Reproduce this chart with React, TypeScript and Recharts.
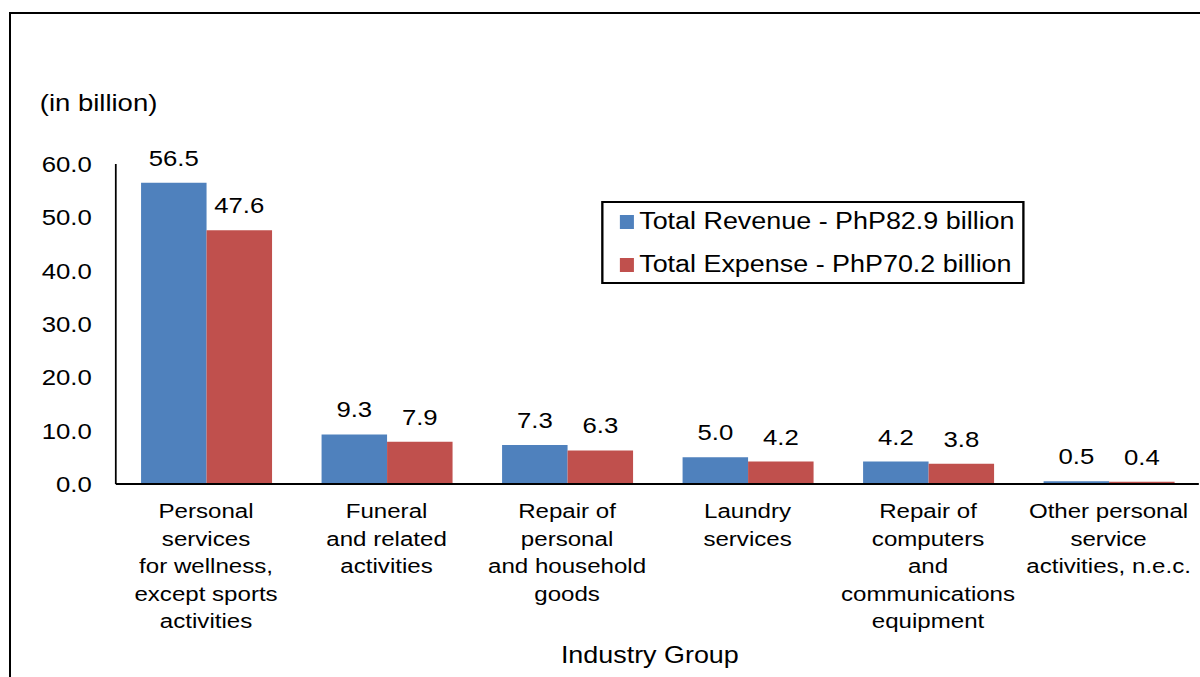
import { BarChart, Bar, XAxis, YAxis, Legend, LabelList } from "recharts";

// categories, line breaks as in the source chart
const categories = [
  "Personal\nservices\nfor wellness,\nexcept sports\nactivities",
  "Funeral\nand related\nactivities",
  "Repair of\npersonal\nand household\ngoods",
  "Laundry\nservices",
  "Repair of\ncomputers\nand\ncommunications\nequipment",
  "Other personal\nservice\nactivities, n.e.c.",
];
const revenue = [56.5, 9.3, 7.3, 5.0, 4.2, 0.5];
const expense = [47.6, 7.9, 6.3, 4.2, 3.8, 0.4];
const yTicks = [0, 10, 20, 30, 40, 50, 60];

const revenueName = "Total Revenue - PhP82.9 billion";
const expenseName = "Total Expense - PhP70.2 billion";
const legendOrder = [revenueName, expenseName];

const data = categories.map((c, i) => ({ name: c, revenue: revenue[i], expense: expense[i] }));

const FONT = '"Liberation Sans", Arial, sans-serif';
// the source picture is stretched sideways, so the chart is drawn narrower and scaled
const W = 1026;
const S = 1200 / W;

const YTick = (props: any) => {
  const { x, y, payload } = props;
  return (
    <text x={x - 20.5} y={y} dy="0.36em" textAnchor="end" fontSize={22} fontFamily={FONT} fill="#000">
      {Number(payload.value).toFixed(1)}
    </text>
  );
};

const XTick = (props: any) => {
  const { x, y, payload } = props;
  const lines = String(payload.value).split("\n");
  return (
    <text x={x} y={y + 34.5} textAnchor="middle" fontSize={20.6} fontFamily={FONT} fill="#000">
      {lines.map((l, i) => (
        <tspan key={i} x={x} dy={i === 0 ? 0 : 27.5}>
          {l}
        </tspan>
      ))}
    </text>
  );
};

const renderLegend = (props: any) => {
  const items = [...props.payload].sort(
    (a: any, b: any) => legendOrder.indexOf(a.value) - legendOrder.indexOf(b.value)
  );
  return (
    <div
      style={{
        border: "2px solid #000",
        boxSizing: "border-box",
        width: "100%",
        height: "100%",
        paddingLeft: 14,
        fontFamily: FONT,
        fontSize: 23,
        color: "#000",
        overflow: "visible",
      }}
    >
      {items.map((p: any, i: number) => (
        <div
          key={p.value}
          style={{
            display: "flex",
            alignItems: "center",
            height: 43,
            marginTop: i === 0 ? -3 : 0,
            whiteSpace: "nowrap",
          }}
        >
          <span style={{ display: "inline-block", width: 12, height: 14, background: p.color, marginRight: 5 }} />
          {p.value}
        </div>
      ))}
    </div>
  );
};

export default function App() {
  return (
    <div style={{ position: "absolute", left: 0, top: 0, width: 1200, height: 677, overflow: "hidden", background: "#fff" }}>
      <div
        style={{
          position: "absolute",
          left: 9,
          top: 12,
          width: 1300,
          height: 800,
          borderTop: "2px solid #000",
          borderLeft: "2px solid #000",
        }}
      />
      <div style={{ position: "absolute", left: 0, top: 0, width: W, height: 677, transform: `scaleX(${S})`, transformOrigin: "0 0" }}>
        <BarChart
          width={W}
          height={677}
          data={data}
          margin={{ top: 164, right: 1, bottom: 0, left: 0 }}
          barCategoryGap="14%"
          barGap={0}
        >
          <YAxis
            width={99}
            domain={[0, 60]}
            ticks={yTicks}
            interval={0}
            tick={YTick}
            tickLine={false}
            tickSize={0}
            tickMargin={0}
            axisLine={{ stroke: "#000", strokeWidth: 1.5 }}
            label={{
              content: () => (
                <text x={34} y={103} dy="0.36em" fontSize={23.5} fontFamily={FONT} fill="#000">
                  (in billion)
                </text>
              ),
            }}
          />
          <XAxis
            dataKey="name"
            height={193}
            interval={0}
            tick={XTick}
            tickLine={false}
            tickSize={0}
            tickMargin={0}
            axisLine={{ stroke: "#000", strokeWidth: 2 }}
            label={{
              content: () => (
                <text x={555.6} y={655} dy="0.36em" textAnchor="middle" fontSize={23} fontFamily={FONT} fill="#000">
                  Industry Group
                </text>
              ),
            }}
          />
          <Legend
            content={renderLegend}
            layout="horizontal"
            verticalAlign="middle"
            align="center"
            wrapperStyle={{ left: 513.5, top: 201, width: 362, height: 83 }}
          />
          <Bar dataKey="revenue" name={revenueName} fill="#4F81BD" isAnimationActive={false}>
            <LabelList
              dataKey="revenue"
              position="top"
              offset={17}
              fontSize={22}
              fontFamily={FONT}
              fill="#000"
              formatter={(v: any) => Number(v).toFixed(1)}
            />
          </Bar>
          <Bar dataKey="expense" name={expenseName} fill="#C0504D" isAnimationActive={false}>
            <LabelList
              dataKey="expense"
              position="top"
              offset={17}
              fontSize={22}
              fontFamily={FONT}
              fill="#000"
              formatter={(v: any) => Number(v).toFixed(1)}
            />
          </Bar>
        </BarChart>
      </div>
    </div>
  );
}
